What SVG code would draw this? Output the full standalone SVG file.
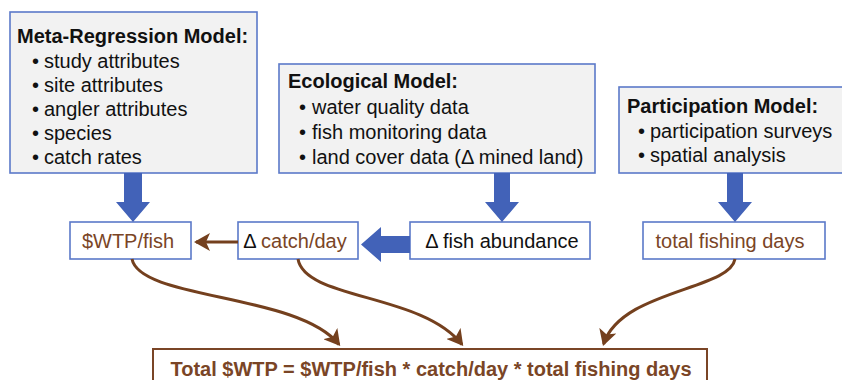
<svg xmlns="http://www.w3.org/2000/svg" width="842" height="380" viewBox="0 0 842 380">
<style>
.model{fill:#f2f2f2;stroke:#5b79c9;stroke-width:1.6}
.node{fill:#ffffff;stroke:#5b79c9;stroke-width:1.6}
.total{fill:#ffffff;stroke:#7a4526;stroke-width:2}
.t{font-family:"Liberation Sans",Arial,sans-serif;font-size:20px;fill:#111111}
.b{font-weight:bold}
.br{fill:#7a4526}
.blk{fill:#111111}
.blue{fill:#4262b8}
.conn{fill:none;stroke:#74401e;stroke-width:3}
</style>
<defs>
<marker id="ah" markerUnits="userSpaceOnUse" viewBox="0 0 16 18" markerWidth="16" markerHeight="18" refX="14" refY="9" orient="auto">
<path d="M0,0 L16,9 L0,18 L4,9 z" fill="#74401e"/>
</marker>
</defs>
<g id="meta-regression-model">
<rect class="model" x="10" y="12" width="247" height="161"/>
<text class="t b" x="17" y="43">Meta-Regression Model:</text>
<text class="t" x="32" y="68">•</text><text class="t" x="44" y="68">study attributes</text>
<text class="t" x="32" y="92">•</text><text class="t" x="44" y="92">site attributes</text>
<text class="t" x="32" y="116">•</text><text class="t" x="44" y="116">angler attributes</text>
<text class="t" x="32" y="140">•</text><text class="t" x="44" y="140">species</text>
<text class="t" x="32" y="164">•</text><text class="t" x="44" y="164">catch rates</text>
</g>
<g id="ecological-model">
<rect class="model" x="279" y="64" width="316" height="109"/>
<text class="t b" x="288" y="88">Ecological Model:</text>
<text class="t" x="299" y="114">•</text><text class="t" x="312" y="114">water quality data</text>
<text class="t" x="299" y="139">•</text><text class="t" x="312" y="139">fish monitoring data</text>
<text class="t" x="299" y="164">•</text><text class="t" x="312" y="164">land cover data (Δ mined land)</text>
</g>
<g id="participation-model">
<rect class="model" x="619" y="87" width="230" height="86"/>
<text class="t b" x="627" y="113">Participation Model:</text>
<text class="t" x="638" y="138">•</text><text class="t" x="650" y="138">participation surveys</text>
<text class="t" x="638" y="162">•</text><text class="t" x="650" y="162">spatial analysis</text>
</g>
<g id="wtp-fish">
<rect class="node" x="70" y="222" width="121" height="37"/>
<text class="t br" x="128" y="248" text-anchor="middle">$WTP/fish</text>
</g>
<g id="catch-day">
<rect class="node" x="238" y="222" width="120" height="37"/>
<text class="t br" x="295" y="248" text-anchor="middle"><tspan class="blk">Δ</tspan> catch/day</text>
</g>
<g id="fish-abundance">
<rect class="node" x="410" y="222" width="180" height="37"/>
<text class="t" x="502" y="248" text-anchor="middle">Δ fish abundance</text>
</g>
<g id="total-fishing-days">
<rect class="node" x="643" y="222" width="182" height="37"/>
<text class="t br" x="730" y="248" text-anchor="middle">total fishing days</text>
</g>
<g id="total-wtp">
<rect class="total" x="153" y="349" width="554" height="45"/>
<text class="t b br" x="431" y="376" text-anchor="middle">Total $WTP = $WTP/fish * catch/day * total fishing days</text>
</g>
<g id="connectors">
<polygon class="blue" points="124,173 142,173 142,202 150,202 133,222 116,202 124,202"/>
<polygon class="blue" points="494,173 510,173 510,202 519,202 502,222 485,202 494,202"/>
<polygon class="blue" points="727,173 743,173 743,202 752,202 735,222 718,202 727,202"/>
<polygon class="blue" points="410,236 381,236 381,227 361,244.5 381,262 381,253 410,253"/>
<path class="conn" d="M238,242 L196,242" marker-end="url(#ah)"/>
<path class="conn" d="M132,259 C140,300 298,293 339,344.5" marker-end="url(#ah)"/>
<path class="conn" d="M298,259 C305,300 422,293 462,344.5" marker-end="url(#ah)"/>
<path class="conn" d="M735,259 C730,290 621,290 603.6,344" marker-end="url(#ah)"/>
</g>
</svg>
